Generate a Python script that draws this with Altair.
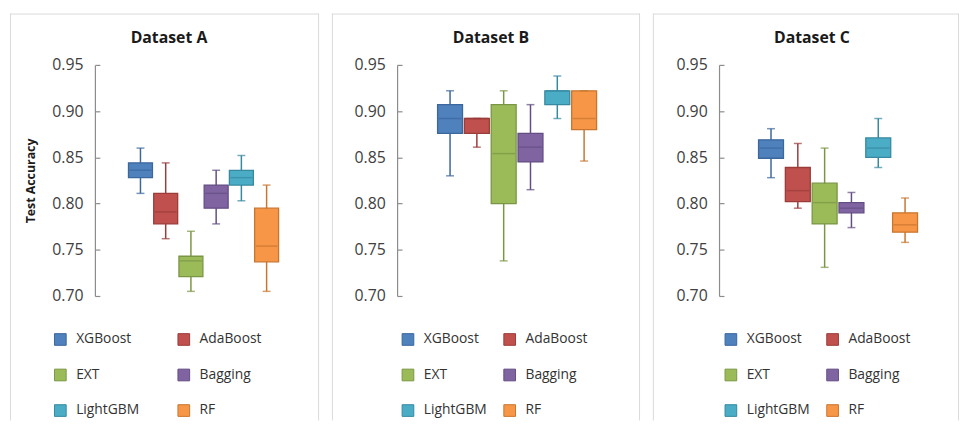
import altair as alt
import pandas as pd

models = ["XGBoost", "AdaBoost", "EXT", "Bagging", "LightGBM", "RF"]
fills = ["#4F81BD", "#C0504D", "#9BBB59", "#8064A2", "#4BACC6", "#F79646"]
darks = ["#3B679C", "#9A3C3A", "#7A9645", "#634D82", "#36899F", "#C8752F"]
y_ticks = [0.70, 0.75, 0.80, 0.85, 0.90, 0.95]

# Dataset A
a_min = [0.811, 0.762, 0.705, 0.778, 0.803, 0.705]
a_q1 = [0.828, 0.778, 0.721, 0.795, 0.820, 0.737]
a_med = [0.836, 0.791, 0.738, 0.811, 0.828, 0.754]
a_q3 = [0.844, 0.811, 0.743, 0.820, 0.836, 0.795]
a_max = [0.860, 0.844, 0.770, 0.836, 0.852, 0.820]

# Dataset B
b_min = [0.830, 0.861, 0.738, 0.815, 0.892, 0.846]
b_q1 = [0.876, 0.876, 0.800, 0.845, 0.907, 0.880]
b_med = [0.892, 0.892, 0.854, 0.861, 0.922, 0.892]
b_q3 = [0.907, 0.892, 0.907, 0.876, 0.922, 0.922]
b_max = [0.922, 0.892, 0.922, 0.907, 0.938, 0.922]

# Dataset C
c_min = [0.828, 0.795, 0.731, 0.774, 0.839, 0.758]
c_q1 = [0.849, 0.802, 0.778, 0.790, 0.850, 0.769]
c_med = [0.860, 0.814, 0.801, 0.795, 0.860, 0.777]
c_q3 = [0.869, 0.839, 0.822, 0.801, 0.871, 0.790]
c_max = [0.881, 0.865, 0.860, 0.812, 0.892, 0.806]

FONT = "Open Sans"
H = 412


def make_df(lo, q1, med, q3, hi):
    return pd.DataFrame({"model": models, "lo": lo, "q1": q1, "med": med, "q3": q3, "hi": hi})


def panel(title, df, W, axis_x, x_range, pad_inner, box_w, legend_x, col_pad, y_title=None):
    base = alt.Chart(df)
    yscale = alt.Scale(domain=[0.70, 0.95], range=[286, 52], nice=False, zero=False)
    xscale = alt.Scale(domain=models, range=x_range, paddingInner=pad_inner, paddingOuter=0)
    xenc = alt.X("model:N", sort=models, scale=xscale, axis=None)
    line_color = alt.Color("model:N", sort=models, scale=alt.Scale(range=darks), legend=None)

    left_kw = dict(
        orient="left", offset=-axis_x, values=y_ticks, format=".2f", grid=False,
        ticks=False, tickSize=0, labelPadding=12, labelFontSize=16, labelFont=FONT,
        labelColor="#404040", domainColor="#8c8c8c", domainWidth=1.2,
    )
    if y_title:
        left_kw.update(title=y_title, titleFont=FONT, titleFontSize=12.5,
                       titleFontWeight="bold", titleColor="#1a1a1a", titlePadding=15)
    else:
        left_kw.update(title=None)
    left_axis = alt.Axis(**left_kw)
    right_axis = alt.Axis(orient="right", offset=axis_x - W, values=y_ticks, grid=False,
                          labels=False, domain=False, ticks=True, tickSize=5,
                          tickColor="#8c8c8c", tickWidth=1.2, title=None)

    legend = alt.Legend(orient="none", legendX=legend_x, legendY=323, columns=2,
                        direction="horizontal",
                        symbolType="square", symbolSize=140, symbolStrokeWidth=1,
                        labelFont=FONT, labelFontSize=14, labelColor="#333333",
                        labelOffset=9, rowPadding=20, columnPadding=col_pad,
                        title=None)

    one = alt.Data(values=[{}])
    border_l = alt.Chart(one).mark_rule(color="#d9d9d9", strokeWidth=1).encode(
        x=alt.value(0.5), y=alt.value(0), y2=alt.value(H))
    border_t = alt.Chart(one).mark_rule(color="#d9d9d9", strokeWidth=1).encode(
        x=alt.value(0), x2=alt.value(W), y=alt.value(0.5))
    border_r = alt.Chart(one).mark_rule(color="#d9d9d9", strokeWidth=1).encode(
        x=alt.value(W - 0.5), y=alt.value(0), y2=alt.value(H))

    ttl = alt.Chart(alt.Data(values=[{"t": title}])).mark_text(
        font=FONT, fontSize=16, fontWeight="bold", color="#1a1a1a"
    ).encode(text="t:N", x=alt.value(161), y=alt.value(25))

    whisk = base.mark_rule(strokeWidth=1.5).encode(
        x=xenc,
        y=alt.Y("lo:Q", scale=yscale, axis=right_axis),
        y2="hi:Q",
        color=line_color,
    )
    box = base.mark_bar(strokeWidth=1.3).encode(
        x=xenc,
        y=alt.Y("q1:Q", scale=yscale, axis=left_axis),
        y2="q3:Q",
        fill=alt.Fill("model:N", scale=alt.Scale(domain=models, range=fills), legend=legend),
        stroke=alt.Stroke("model:N", scale=alt.Scale(domain=models, range=darks), legend=legend),
    )
    med = base.mark_tick(thickness=1.5, size=box_w - 2).encode(
        x=xenc, y=alt.Y("med:Q", scale=yscale, axis=None), color=line_color,
    )
    cap_lo = base.mark_tick(thickness=1.5, size=8).encode(
        x=xenc, y=alt.Y("lo:Q", scale=yscale, axis=None), color=line_color,
    )
    cap_hi = base.mark_tick(thickness=1.5, size=8).encode(
        x=xenc, y=alt.Y("hi:Q", scale=yscale, axis=None), color=line_color,
    )
    return alt.layer(border_l, border_t, border_r, ttl, whisk, box, med, cap_lo, cap_hi).resolve_axis(
        y="independent"
    ).properties(width=W, height=H)


pA = panel("Dataset A", make_df(a_min, a_q1, a_med, a_q3, a_max), 313, 86, [120, 272], 0.05, 24, 44, 37,
           y_title="Test Accuracy")
pB = panel("Dataset B", make_df(b_min, b_q1, b_med, b_q3, b_max), 312, 66, [107, 268], 0.07, 25, 70, 15)
pC = panel("Dataset C", make_df(c_min, c_q1, c_med, c_q3, c_max), 310, 67, [107, 268], 0.07, 25, 72, 15)

chart = alt.hconcat(pA, pB, pC, spacing=11).resolve_scale(
    fill="independent", stroke="independent", color="independent"
).resolve_legend(
    fill="independent", stroke="independent", color="independent"
).configure_view(stroke=None).properties(
    padding={"left": 1, "top": 2, "right": 0, "bottom": 0}, background="white"
)

chart.save("out.html", embed_options={"renderer": "svg", "actions": False})
